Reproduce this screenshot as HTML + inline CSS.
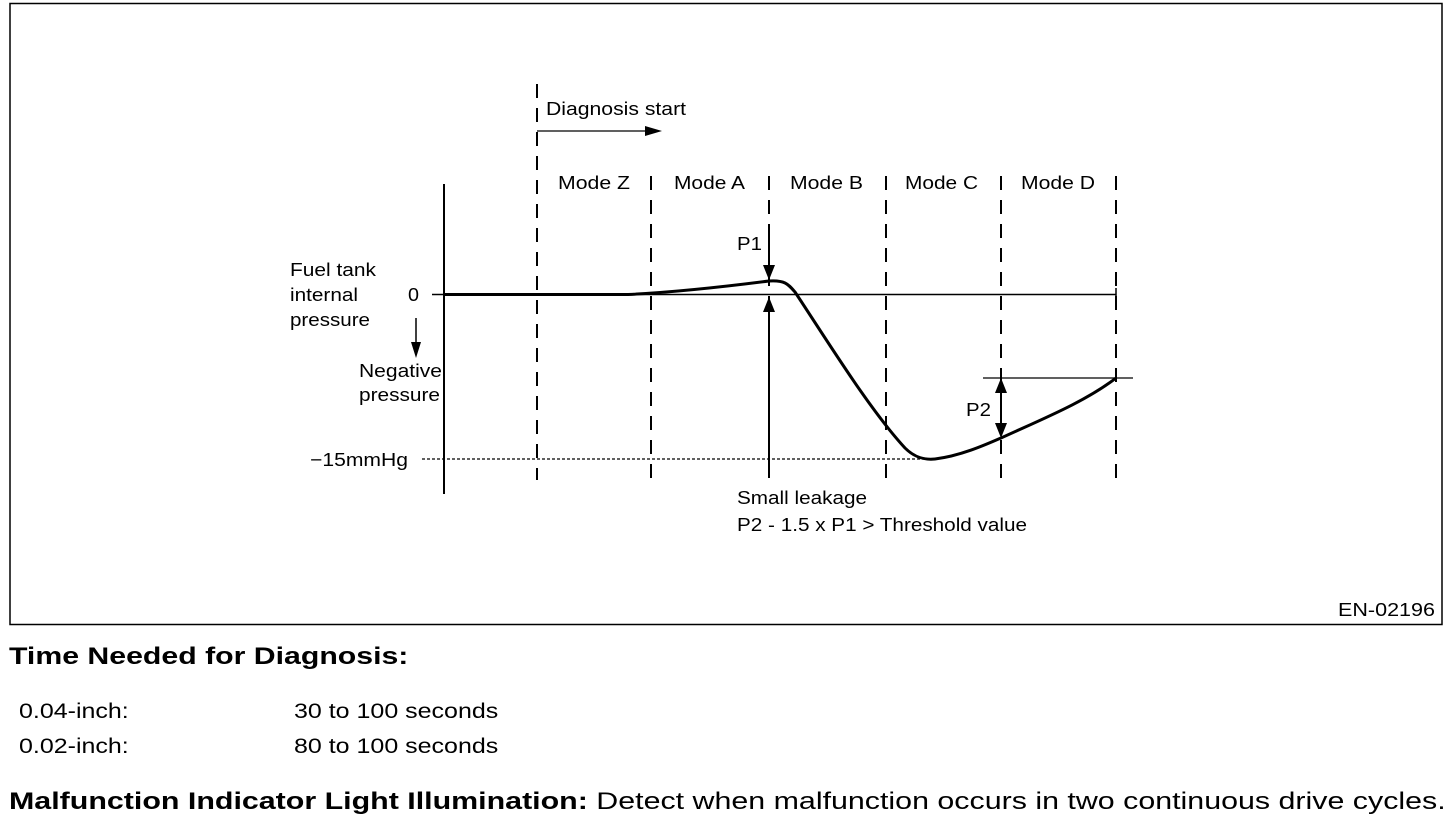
<!DOCTYPE html>
<html><head><style>
body{margin:0;width:1456px;height:828px;background:#fff;font-family:"Liberation Sans",Arial,sans-serif;color:#000;overflow:hidden;position:relative}
.t{position:absolute;white-space:nowrap;transform-origin:left top}
</style></head><body>
<svg width="1456" height="628" style="position:absolute;left:0;top:0" font-family="Liberation Sans, Arial, sans-serif" font-size="18.5">
<rect x="10" y="3.5" width="1432" height="621" fill="none" stroke="#000" stroke-width="1.5"/>
<g stroke="#000" stroke-width="2" stroke-dasharray="14,10">
<line x1="537" y1="84" x2="537" y2="480"/>
<line x1="651" y1="176" x2="651" y2="480"/>
<line x1="769" y1="176" x2="769" y2="480"/>
<line x1="886" y1="176" x2="886" y2="480"/>
<line x1="1001" y1="176" x2="1001" y2="480"/>
<line x1="1116" y1="176" x2="1116" y2="480"/>
</g>
<line x1="444" y1="184" x2="444" y2="494" stroke="#000" stroke-width="2"/>
<line x1="432" y1="294.5" x2="1116" y2="294.5" stroke="#000" stroke-width="1.5"/>
<line x1="1116" y1="288" x2="1116" y2="300" stroke="#000" stroke-width="1.5"/>
<line x1="422" y1="459" x2="930" y2="459" stroke="#000" stroke-width="1.3" stroke-dasharray="3,2"/>
<path d="M444 294.5 L628 294.5 C680 292 730 286 769 281 C785 280 788 284 795 292 C830 345 870 410 905 448 C915 458 925 460 935 459 C960 456 985 445 1001 438 C1040 420 1085 402 1116 378" fill="none" stroke="#000" stroke-width="3"/>
<line x1="983" y1="378" x2="1133" y2="378" stroke="#000" stroke-width="1.2"/>
<line x1="1001" y1="392" x2="1001" y2="426" stroke="#000" stroke-width="2"/>
<polygon points="995,393 1007,393 1001,378" fill="#000"/>
<polygon points="995,423 1007,423 1001,438" fill="#000"/>
<line x1="769" y1="232" x2="769" y2="268" stroke="#000" stroke-width="2"/>
<polygon points="763,265 775,265 769,280" fill="#000"/>
<line x1="769" y1="310" x2="769" y2="478" stroke="#000" stroke-width="2"/>
<polygon points="763,312 775,312 769,297" fill="#000"/>
<line x1="537" y1="131" x2="648" y2="131" stroke="#000" stroke-width="1.3"/>
<polygon points="645,126 662,131 645,136" fill="#000"/>
<line x1="416" y1="318" x2="416" y2="345" stroke="#000" stroke-width="1.5"/>
<polygon points="411,342 421,342 416,358" fill="#000"/>
<g lengthAdjust="spacingAndGlyphs">
<text x="546" y="115" textLength="140" lengthAdjust="spacingAndGlyphs">Diagnosis start</text>
<text x="558" y="189" textLength="72" lengthAdjust="spacingAndGlyphs">Mode Z</text>
<text x="674" y="189" textLength="71" lengthAdjust="spacingAndGlyphs">Mode A</text>
<text x="790" y="189" textLength="73" lengthAdjust="spacingAndGlyphs">Mode B</text>
<text x="905" y="189" textLength="73" lengthAdjust="spacingAndGlyphs">Mode C</text>
<text x="1021" y="189" textLength="74" lengthAdjust="spacingAndGlyphs">Mode D</text>
<text x="737" y="250" textLength="25" lengthAdjust="spacingAndGlyphs">P1</text>
<text x="966" y="416" textLength="25" lengthAdjust="spacingAndGlyphs">P2</text>
<text x="290" y="276" textLength="86" lengthAdjust="spacingAndGlyphs">Fuel tank</text>
<text x="290" y="301" textLength="68" lengthAdjust="spacingAndGlyphs">internal</text>
<text x="290" y="326" textLength="80" lengthAdjust="spacingAndGlyphs">pressure</text>
<text x="408" y="301" textLength="11" lengthAdjust="spacingAndGlyphs">0</text>
<text x="359" y="377" textLength="83" lengthAdjust="spacingAndGlyphs">Negative</text>
<text x="359" y="401" textLength="81" lengthAdjust="spacingAndGlyphs">pressure</text>
<text x="310" y="466" textLength="98" lengthAdjust="spacingAndGlyphs">−15mmHg</text>
<text x="737" y="504" textLength="130" lengthAdjust="spacingAndGlyphs">Small leakage</text>
<text x="737" y="531" textLength="290" lengthAdjust="spacingAndGlyphs">P2 - 1.5 x P1 &gt; Threshold value</text>
<text x="1338" y="616" textLength="97" lengthAdjust="spacingAndGlyphs">EN-02196</text>
</g>
</svg>
<div class="t" style="left:9px;top:643px;font-size:24px;font-weight:bold;transform:scaleX(1.26)">Time Needed for Diagnosis:</div>
<div class="t" style="left:19px;top:700px;font-size:21px;transform:scaleX(1.19)">0.04-inch:</div>
<div class="t" style="left:294px;top:700px;font-size:21px;transform:scaleX(1.19)">30 to 100 seconds</div>
<div class="t" style="left:19px;top:735px;font-size:21px;transform:scaleX(1.19)">0.02-inch:</div>
<div class="t" style="left:294px;top:735px;font-size:21px;transform:scaleX(1.19)">80 to 100 seconds</div>
<div class="t" style="left:9px;top:788px;font-size:24.5px;transform:scaleX(1.24)"><b>Malfunction Indicator Light Illumination:</b> Detect when malfunction occurs in two continuous drive cycles.</div>
</body></html>
